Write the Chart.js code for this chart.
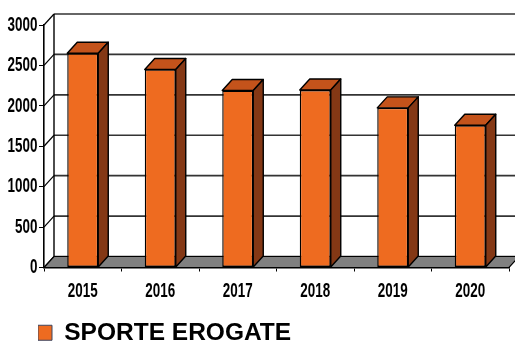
<!DOCTYPE html>
<html>
<head>
<meta charset="utf-8">
<script src="https://cdn.jsdelivr.net/npm/chart.js@4"></script>
<style>
  html, body { margin: 0; padding: 0; background: #fff; }
  #wrap { width: 515px; height: 343px; position: relative; }
</style>
</head>
<body>
<div id="wrap"><canvas id="myChart"></canvas></div>
<script>
const years = ['2015', '2016', '2017', '2018', '2019', '2020'];
const sporteErogate = [2650, 2450, 2190, 2195, 1975, 1760];
const yTicks = [0, 500, 1000, 1500, 2000, 2500, 3000];

const depth = { x: 10, y: -11 };
const colors = { front: '#EE6B20', top: '#C4531B', side: '#843815', floor: '#808080', grid: '#333333' };
// axis numbers are narrow bold, drawn squeezed horizontally
const tickFont = "bold 21px 'Liberation Sans', Arial, sans-serif";
const squeeze = 0.64;

function poly(ctx, pts, fill) {
    ctx.beginPath();
    ctx.moveTo(pts[0][0], pts[0][1]);
    for (let i = 1; i < pts.length; i++) ctx.lineTo(pts[i][0], pts[i][1]);
    ctx.closePath();
    if (fill) { ctx.fillStyle = fill; ctx.fill(); }
    ctx.stroke();
}

function narrowText(ctx, text, x, y, align) {
    ctx.save();
    ctx.translate(x, y);
    ctx.scale(squeeze, 1);
    ctx.textAlign = align;
    ctx.textBaseline = 'middle';
    ctx.fillText(text, 0, 0);
    ctx.restore();
}

// walls, floor and the top/side faces of the columns
const box3d = {
    id: 'box3d',
    beforeDatasetsDraw(chart) {
        const { ctx, chartArea: a, scales: { y } } = chart;
        const dx = depth.x, dy = depth.y;
        ctx.save();
        // back wall grid lines + diagonals on the left wall
        y.ticks.forEach(t => {
            const py = y.getPixelForValue(t.value);
            ctx.strokeStyle = colors.grid;
            ctx.lineWidth = 1.6;
            ctx.beginPath();
            ctx.moveTo(a.left + dx, py + dy);
            ctx.lineTo(a.right + dx, py + dy);
            ctx.stroke();
            ctx.strokeStyle = '#000';
            ctx.lineWidth = 1.2;
            ctx.beginPath();
            ctx.moveTo(a.left, py);
            ctx.lineTo(a.left + dx, py + dy);
            ctx.stroke();
        });
        // back edge of the left wall
        ctx.strokeStyle = '#000';
        ctx.lineWidth = 1.4;
        ctx.beginPath();
        ctx.moveTo(a.left + dx, a.top + dy);
        ctx.lineTo(a.left + dx, a.bottom + dy);
        ctx.stroke();
        // floor
        ctx.lineWidth = 1.2;
        poly(ctx, [[a.left, a.bottom], [a.right, a.bottom], [a.right + dx, a.bottom + dy], [a.left + dx, a.bottom + dy]], colors.floor);
        ctx.restore();
    },
    afterDatasetsDraw(chart) {
        const { ctx } = chart;
        const dx = depth.x, dy = depth.y;
        ctx.save();
        ctx.strokeStyle = '#000';
        ctx.lineWidth = 1.4;
        ctx.lineJoin = 'round';
        chart.getDatasetMeta(0).data.forEach(bar => {
            const { x, y, base, width } = bar.getProps(['x', 'y', 'base', 'width'], true);
            const l = x - width / 2, r = x + width / 2;
            poly(ctx, [[l, y], [r, y], [r + dx, y + dy], [l + dx, y + dy]], colors.top);
            poly(ctx, [[r, y], [r + dx, y + dy], [r + dx, base + dy], [r, base]], colors.side);
        });
        ctx.restore();
    },
    afterDraw(chart) {
        const { ctx, scales: { x, y } } = chart;
        ctx.save();
        ctx.font = tickFont;
        ctx.fillStyle = '#000';
        y.ticks.forEach((t, i) => narrowText(ctx, t.label, y.right - 6.5, y.getPixelForTick(i), 'right'));
        x.ticks.forEach((t, i) => narrowText(ctx, t.label, x.getPixelForTick(i), x.top + 24, 'center'));
        ctx.restore();
    }
};

const ctx = document.getElementById('myChart').getContext('2d');
const chart = new Chart(ctx, {
    type: 'bar',
    data: {
        labels: years,
        datasets: [{
            label: 'SPORTE EROGATE',
            data: sporteErogate,
            backgroundColor: colors.front,
            borderColor: '#000',
            borderWidth: 1.4,
            borderSkipped: false,
            categoryPercentage: 1,
            barPercentage: 0.4
        }]
    },
    options: {
        responsive: true,
        maintainAspectRatio: false,
        animation: false,
        layout: { padding: { left: 38, right: 6, top: 25, bottom: -12 } },
        plugins: {
            tooltip: { enabled: false },
            legend: {
                position: 'bottom',
                align: 'start',
                labels: {
                    color: '#000',
                    font: { family: "'Liberation Sans', Arial, sans-serif", size: 24.5, weight: 'bold' },
                    boxWidth: 14,
                    boxHeight: 15,
                    padding: 0,
                    generateLabels(c) {
                        const items = Chart.defaults.plugins.legend.labels.generateLabels(c);
                        items.forEach(it => { it.strokeStyle = '#3c4660'; it.lineWidth = 1; });
                        return items;
                    }
                }
            }
        },
        scales: {
            x: {
                grid: { drawOnChartArea: false, tickLength: 4, color: '#000', lineWidth: 1 },
                border: { color: '#000', width: 1.6 },
                ticks: { display: false },
                afterFit(scale) { scale.height = 53; }
            },
            y: {
                min: 0,
                max: 3000,
                afterBuildTicks(scale) { scale.ticks = yTicks.map(v => ({ value: v })); },
                grid: { drawOnChartArea: false, tickLength: 5, color: '#000', lineWidth: 1 },
                border: { color: '#000', width: 1.6 },
                ticks: { display: false, callback: v => String(v) },
                afterFit(scale) { scale.width = 6; }
            }
        }
    },
    plugins: [box3d]
});
</script>
</body>
</html>
